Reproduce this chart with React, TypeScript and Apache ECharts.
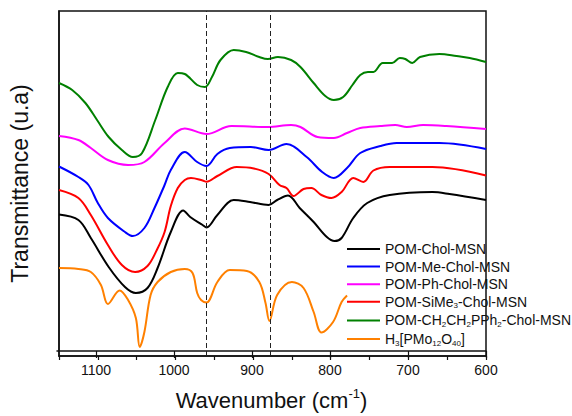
import { useEffect, useRef } from 'react';
import * as echarts from 'echarts';

const FONT = '"Liberation Sans", Arial, sans-serif';

const wavenumberLabels = [1100, 1000, 900, 800, 700, 600];
const dashedLines = [960, 878];

const seriesNames = [
  'POM-Chol-MSN',
  'POM-Me-Chol-MSN',
  'POM-Ph-Chol-MSN',
  'POM-SiMe3-Chol-MSN',
  'POM-CH2CH2PPh2-Chol-MSN',
  'H3[PMo12O40]',
];
const seriesColors = ['#000000', '#0000ff', '#ff00ff', '#ff0000', '#008000', '#ff8000'];

const cholData = [
  [1150, 141.5], [1125, 136], [1109, 118], [1086, 89], [1065, 69], [1051, 63], [1036, 68], [1023, 88],
  [1006, 124], [990, 145.5], [981, 139], [965, 131], [960, 128.5], [946, 141], [925, 156], [904, 154],
  [880, 151], [869, 156], [855, 160.5], [840, 148], [822, 134], [805, 119], [795, 115], [786, 118],
  [771, 138], [753, 153], [724, 161], [669, 164], [647, 162], [600, 156],
];
const meData = [
  [1150, 189.5], [1125, 179], [1112, 171], [1100, 153], [1087, 138], [1065, 124], [1055, 120], [1040, 128],
  [1027, 148], [1014, 171], [1006, 186], [988, 204], [972, 194], [960, 190], [946, 202], [930, 208],
  [903, 209], [880, 206], [857, 212], [831, 199], [811, 184], [796, 178], [779, 188], [762, 203],
  [736, 210], [715, 213], [660, 213], [600, 207],
];
const phData = [
  [1150, 220], [1125, 216], [1109, 208], [1087, 196], [1061, 191], [1040, 194], [1014, 213], [988, 227.5],
  [960, 222], [928, 230], [881, 229], [851, 231], [839, 229], [817, 219], [796, 218], [779, 223],
  [762, 228], [736, 230], [717, 231], [702, 229], [681, 231], [651, 230], [600, 227],
];
const siMe3Data = [
  [1150, 166], [1125, 158], [1109, 141], [1087, 111], [1069, 91], [1052, 84], [1036, 90], [1024, 106],
  [1014, 124], [1006, 150], [997, 168], [988, 176], [980, 178], [965, 175.5], [960, 174.3], [946, 180],
  [921, 189], [899, 187.5], [880, 182], [866, 171], [857, 168], [848, 160], [835, 167], [825, 168],
  [812, 161], [799, 158], [786, 164], [771, 178], [758, 174], [745, 185.5], [724, 189], [669, 189],
  [600, 180.5],
];
const pph2Data = [
  [1150, 273], [1133, 266], [1116, 253], [1101, 236], [1086, 219], [1069, 206], [1055, 199], [1043, 203],
  [1026, 236], [1010, 269], [997, 283], [988, 282], [972, 271], [962, 269], [953, 279], [942, 296],
  [925, 306], [909, 304], [892, 299], [881, 297], [868, 299], [851, 296], [839, 289], [822, 273],
  [807, 260], [796, 256], [784, 259], [772, 271], [762, 281], [752, 284], [745, 284], [733, 293],
  [721, 293], [711, 298], [704, 297], [695, 293], [685, 299], [660, 302], [638, 300], [621, 298],
  [600, 294],
];
const hpmoData = [
  [1150, 88], [1125, 87], [1109, 84], [1096, 71], [1087, 52], [1072, 65.5], [1061, 56], [1051, 38],
  [1046, 9], [1040, 24], [1032, 61], [1023, 74], [1006, 84], [988, 87], [978, 83], [972, 63],
  [967, 56], [960, 53.5], [946, 74], [930, 86], [908, 85], [892, 74], [884, 53], [879, 35],
  [869, 61], [850, 74], [835, 68], [822, 44], [812, 23.5], [797, 34], [786, 54], [779, 60.5],
];

const allData = [cholData, meData, phData, siMe3Data, pph2Data, hpmoData];

const legendRich: Record<string, string> = {
  'POM-Chol-MSN': '{n|POM-Chol-MSN}',
  'POM-Me-Chol-MSN': '{n|POM-Me-Chol-MSN}',
  'POM-Ph-Chol-MSN': '{n|POM-Ph-Chol-MSN}',
  'POM-SiMe3-Chol-MSN': '{n|POM-SiMe}{s|3}{n|-Chol-MSN}',
  'POM-CH2CH2PPh2-Chol-MSN': '{n|POM-CH}{s|2}{n|CH}{s|2}{n|PPh}{s|2}{n|-Chol-MSN}',
  'H3[PMo12O40]': '{n|H}{s|3}{n|[PMo}{s|12}{n|O}{s|40}{n|]}',
};

const GRID = { left: 57, right: 86, top: 11, bottom: 60 };

export default function App() {
  const ref = useRef<HTMLDivElement>(null);

  useEffect(() => {
    if (!ref.current) return;
    const chart = echarts.init(ref.current, null, { renderer: 'svg' });
    const series: any[] = allData.map((d, i) => ({
      name: seriesNames[i],
      type: 'line',
      xAxisIndex: 0,
      yAxisIndex: 0,
      data: d,
      symbol: 'none',
      smooth: 0.35,
      lineStyle: { width: 2, color: seriesColors[i] },
      itemStyle: { color: seriesColors[i] },
      z: 3,
    }));
    series[0].markLine = {
      silent: true,
      symbol: ['none', 'none'],
      label: { show: false },
      lineStyle: { type: [5, 3], color: '#222', width: 1 },
      data: dashedLines.map((v) => ({ xAxis: v })),
    };
    chart.setOption({
      animation: false,
      backgroundColor: '#ffffff',
      grid: [
        { ...GRID, show: true, borderColor: '#111', borderWidth: 1.5 },
        { ...GRID, show: false },
      ],
      xAxis: [
        {
          gridIndex: 0,
          type: 'value',
          min: 600,
          max: 1150,
          interval: 50,
          inverse: true,
          axisLine: { show: true, lineStyle: { color: '#111', width: 1.5 } },
          axisTick: { show: true, length: 4, lineStyle: { color: '#111', width: 1.2 } },
          axisLabel: { show: false },
          splitLine: { show: false },
        },
        {
          gridIndex: 1,
          type: 'value',
          min: 600,
          max: 1150,
          interval: 100,
          inverse: true,
          name: '{a|Wavenumber (cm}{sup|-1}{a|)}',
          nameLocation: 'middle',
          nameGap: 36,
          nameTextStyle: {
            rich: {
              a: { fontSize: 22, fontFamily: FONT, color: '#111', lineHeight: 26 },
              sup: { fontSize: 13, fontFamily: FONT, color: '#111', verticalAlign: 'top', lineHeight: 8 },
            },
          },
          axisLine: { show: true, lineStyle: { color: '#111', width: 1.5 } },
          axisTick: { show: true, length: 7, lineStyle: { color: '#111', width: 1.2 } },
          axisLabel: {
            fontSize: 14,
            fontFamily: FONT,
            color: '#111',
            margin: 12,
            showMaxLabel: false,
            formatter: (v: number) => (wavenumberLabels.includes(v) ? String(v) : ''),
          },
          splitLine: { show: false },
        },
      ],
      yAxis: [
        {
          gridIndex: 0,
          type: 'value',
          min: 0,
          max: 345,
          name: 'Transmittance (u.a)',
          nameLocation: 'middle',
          nameGap: 28,
          nameTextStyle: { fontSize: 23, fontFamily: FONT, color: '#111' },
          axisLine: { show: true, lineStyle: { color: '#111', width: 1.5 } },
          axisTick: { show: false },
          axisLabel: { show: false },
          splitLine: { show: false },
        },
        {
          gridIndex: 1,
          type: 'value',
          min: 0,
          max: 1,
          show: false,
        },
      ],
      legend: {
        data: seriesNames,
        orient: 'vertical',
        left: 347,
        top: 242,
        padding: 0,
        icon: 'rect',
        itemWidth: 33,
        itemHeight: 2,
        itemGap: 3.6,
        formatter: (name: string) => legendRich[name] || name,
        textStyle: {
          rich: {
            n: { fontSize: 14, fontFamily: FONT, color: '#111', lineHeight: 16 },
            s: { fontSize: 8, fontFamily: FONT, color: '#111', verticalAlign: 'bottom', lineHeight: 6 },
          },
        },
      },
      series,
    });
    return () => chart.dispose();
  }, []);

  return (
    <div
      ref={ref}
      style={{ position: 'fixed', left: 0, top: 0, width: 572, height: 416, background: '#fff' }}
    />
  );
}
